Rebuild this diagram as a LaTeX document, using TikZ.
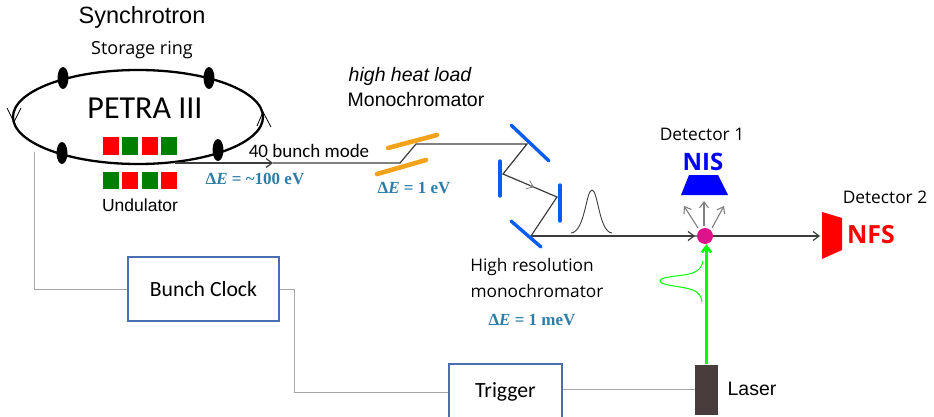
\documentclass[tikz,border=0pt]{standalone}
\usepackage{fontspec}
\usetikzlibrary{arrows.meta}
\setmainfont{Liberation Sans}
\newfontfamily\calibri{Carlito}
\newfontfamily\segoe{Open Sans}
\newfontfamily\cambria{Liberation Serif}
\definecolor{energyblue}{HTML}{2E7DA6}
\definecolor{beamgray}{HTML}{3C3C3C}
\definecolor{wiregray}{HTML}{A6A6A6}
\definecolor{boxblue}{HTML}{4A6FB0}
\definecolor{mirrorblue}{HTML}{0B5CF0}
\definecolor{mirrororange}{HTML}{F2A31B}
\definecolor{undgreen}{HTML}{007F00}
\definecolor{laserbrown}{HTML}{483C3C}
\newcommand{\enrg}[1]{{\cambria\bfseries\fontsize{17}{17}\selectfont\color{energyblue}Δ\textit{E} = #1}}
\begin{document}
\begin{tikzpicture}[x=1pt, y=-1pt, >={Straight Barb[length=6pt, width=9pt]},
	lab/.style={inner sep=0pt, font=\segoe\fontsize{17.3}{20}\selectfont},
	arial/.style={inner sep=0pt, font=\fontsize{19.5}{22}\selectfont},
	calib/.style={inner sep=0pt, font=\calibri\fontsize{19}{22}\selectfont},
	boxtext/.style={inner sep=0pt, font=\calibri\fontsize{21.7}{24}\selectfont},
	energy/.style={inner sep=0pt},
	kicker/.style={circle, fill=black, draw=none, inner sep=0pt, minimum size=1pt, xscale=11, yscale=22},
	und/.style={inner sep=0pt, minimum width=16pt, minimum height=17pt},
	ctrl/.style={draw=boxblue, line width=1.3pt},
	wire/.style={draw=wiregray, line width=1pt},
	beam/.style={draw=beamgray, line width=1.2pt},
	mirrorb/.style={draw=mirrorblue, line width=3.4pt, line cap=round},
	mirroro/.style={draw=mirrororange, line width=4.6pt, line cap=round},
	fan/.style={draw=gray, line width=1.1pt, ->}]
	\useasboundingbox (0,0) rectangle (934,417);

	% storage ring
	\draw[line width=2.3pt] (138,117) ellipse (125 and 47);
	\draw[line width=.8pt] (7,108) -- (14,122) -- (21,108);
	\draw[line width=.8pt] (257,126) -- (263,112) -- (271,127);
	\node[kicker] (k1) at (63,78) {};
	\node[kicker] (k2) at (209,78) {};
	\node[kicker] (k3) at (62,153) {};
	\node[kicker] (k4) at (218,150) {};

	\node[arial, font=\fontsize{23.5}{26}\selectfont] (sync) at (142,17) {Synchrotron};
	\node[lab, font=\segoe\fontsize{18}{20}\selectfont] (ring) at (142,50) {Storage ring};
	\node[inner sep=0pt, font=\calibri\fontsize{32}{35}\selectfont] (petra) at (145,108) {PETRA III};
	\node[arial, font=\fontsize{17.5}{20}\selectfont] (undl) at (140,205) {Undulator};

	% undulator
	\node[und, fill=red] (u1) at (111,146) {};
	\node[und, fill=undgreen] (u2) at (130,146) {};
	\node[und, fill=red] (u3) at (150,146) {};
	\node[und, fill=undgreen] (u4) at (169,146) {};
	\node[und, fill=undgreen] (u5) at (111,180) {};
	\node[und, fill=red] (u6) at (130,180) {};
	\node[und, fill=undgreen] (u7) at (150,180) {};
	\node[und, fill=red] (u8) at (169,180) {};

	% beam path
	\coordinate (src) at (175,163);
	\coordinate (tick) at (273,163);
	\coordinate (hhl1) at (400,163);
	\coordinate (hhl2) at (416,144);
	\coordinate (hr1) at (527,144);
	\coordinate (hr2) at (503,174);
	\coordinate (hr3) at (557,197);
	\coordinate (hr4) at (531,236);
	\node[circle, fill=magenta!85!violet, inner sep=0pt, minimum size=16pt] (sample) at (705,236) {};
	\draw[beam, ->] (src) -- (tick);
	\draw[beam] (tick) -- (hhl1) -- (hhl2) -- (hr1) -- (hr2) -- (hr3) -- (hr4) -- (sample);
	\draw[draw=gray, line width=.8pt, ->] (530,185.5) -- (534,187.2);
	\draw[beam, ->] (hr4) -- (695,236);

	% monochromators
	\draw[mirroro] (388,148) -- (437,135);
	\draw[mirroro] (377,174) -- (426,160);
	\draw[mirrorb] (511,125) -- (549,161);
	\draw[mirrorb] (500,161) -- (500,196);
	\draw[mirrorb] (560,185) -- (560,221);
	\draw[mirrorb] (511,221) -- (541,247);
	\draw[beamgray, line width=.9pt] (571,233) .. controls (585,232) and (586,190) .. (592,190) .. controls (598,190) and (599,232) .. (612,233);

	\node[calib] (mode) at (309,151) {40 bunch mode};
	\node[energy] (e1) at (255,179) {\enrg{\char"007E 100 eV}};
	\node[arial, font=\itshape\fontsize{19.5}{22}\selectfont] (hhl) at (410,76) {high heat load};
	\node[arial] (mono) at (416,100) {Monochromator};
	\node[energy] (e2) at (414,188) {\enrg{1 eV}};
	\node[lab] (hres) at (532,267) {High resolution};
	\node[lab] (hmono) at (537,291) {monochromator};
	\node[energy] (e3) at (532,320) {\enrg{1 meV}};

	% detectors
	\node[lab] (det1) at (702,134) {Detector 1};
	\node[inner sep=0pt, text=blue, font=\segoe\bfseries\fontsize{24}{26}\selectfont] (nis) at (703,162) {NIS};
	\fill[blue] (689,175) -- (718,175) -- (728,195) -- (681,195) -- cycle;
	\node[lab] (det2) at (885,197) {Detector 2};
	\node[inner sep=0pt, text=red, font=\segoe\bfseries\fontsize{25}{27}\selectfont] (nfs) at (871,235) {NFS};
	\fill[red] (822,212) -- (842,218) -- (842,250) -- (822,259) -- cycle;
	\draw[beam, ->] (sample) -- (820,236);
	\draw[fan] (698,228) -- (684,206);
	\draw[fan] (704,226) -- (704,201);
	\draw[fan] (712,228) -- (724,206);

	% laser
	\node[fill=laserbrown, inner sep=0pt, minimum width=23pt, minimum height=50pt] (laser) at (706.5,389.5) {};
	\node[arial] (laserl) at (752,389) {Laser};
	\draw[green, line width=2.6pt, ->] (laser.north) -- (laser.north |- sample.south);
	\draw[green, line width=1pt] (703,261) .. controls (701,272) and (692,274) .. (680,275.5) .. controls (668,277) and (660,278) .. (660,281) .. controls (660,284) and (668,285) .. (680,287) .. controls (692,289) and (701,291) .. (702,302);

	% timing
	\node[ctrl, boxtext, ctrl, minimum width=151pt, minimum height=64pt] (clock) at (203.5,289) {Bunch Clock};
	\node[ctrl, boxtext, ctrl, minimum width=113pt, minimum height=56pt] (trig) at (505.5,392) {Trigger};
	\coordinate (tap) at (34,152);
	\draw[wire] (tap) |- (clock.west);
	\draw[wire] (clock.east) -- (294,289) |- (trig.west);
	\draw[wire] (trig.east |- laser.west) -- (laser.west);
\end{tikzpicture}
\end{document}
